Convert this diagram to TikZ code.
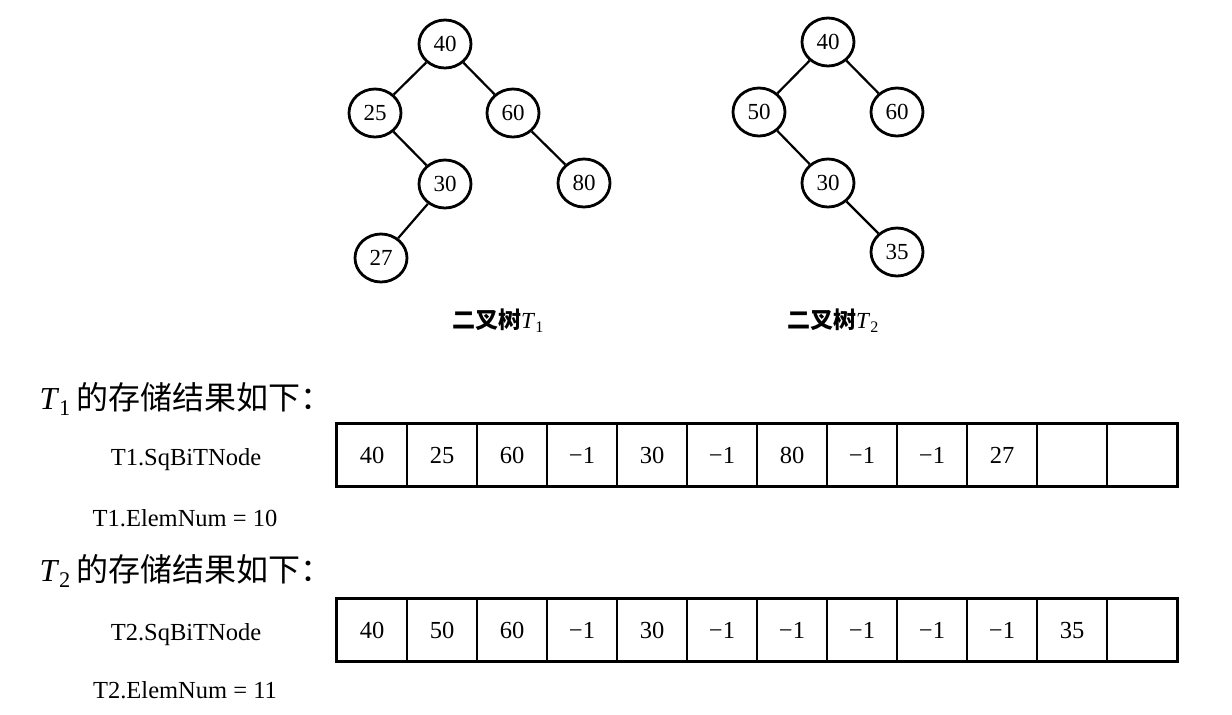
\documentclass[tikz,border=0pt]{standalone}
\usepackage{fontspec}
\setmainfont{Liberation Serif}
\newfontfamily\cjk{Noto Sans CJK SC}
\usetikzlibrary{shapes.geometric}

\tikzset{
  treenode/.style={draw, ellipse, line width=2.8pt, minimum width=52pt, minimum height=48pt, inner sep=0pt, text height=15.2pt, text depth=0pt, font=\fontsize{23}{26}\selectfont},
  treeedge/.style={line width=2.2pt},
  cell/.style={draw, line width=1.8pt, minimum width=70pt, minimum height=62pt, inner sep=0pt, text height=16.2pt, text depth=0pt, font=\fontsize{24.5}{28}\selectfont},
  rowname/.style={text height=16.2pt, text depth=0pt, font=\fontsize{24.5}{28}\selectfont},
  heading/.style={anchor=west, font=\fontsize{32}{36}\selectfont},
}

\begin{document}
\begin{tikzpicture}[x=1pt, y=-1pt]
  \useasboundingbox (0,0) rectangle (1232,715);

  % 二叉树 T1
  \begin{scope}
    \node[treenode] (t1a) at (445,44) {40};
    \node[treenode] (t1b) at (375,113) {25};
    \node[treenode] (t1c) at (513,113) {60};
    \node[treenode] (t1d) at (445,184) {30};
    \node[treenode] (t1e) at (584,183) {80};
    \node[treenode] (t1f) at (381,258) {27};
    \draw[treeedge] (t1a) -- (t1b);
    \draw[treeedge] (t1a) -- (t1c);
    \draw[treeedge] (t1b) -- (t1d);
    \draw[treeedge] (t1c) -- (t1e);
    \draw[treeedge] (t1d) -- (t1f);
    \node[font=\fontsize{23}{26}\selectfont] (t1name) at (498,321) {{\cjk\bfseries 二叉树}\textit{T}\textsubscript{1}};
  \end{scope}

  % 二叉树 T2
  \begin{scope}
    \node[treenode] (t2a) at (828,42) {40};
    \node[treenode] (t2b) at (759,112) {50};
    \node[treenode] (t2c) at (897,112) {60};
    \node[treenode] (t2d) at (828,183) {30};
    \node[treenode] (t2e) at (897,252) {35};
    \draw[treeedge] (t2a) -- (t2b);
    \draw[treeedge] (t2a) -- (t2c);
    \draw[treeedge] (t2b) -- (t2d);
    \draw[treeedge] (t2d) -- (t2e);
    \node[font=\fontsize{23}{26}\selectfont] (t2name) at (833,321) {{\cjk\bfseries 二叉树}\textit{T}\textsubscript{2}};
  \end{scope}

  % T1 的存储
  \node[heading] (h1) at (36,399) {\textit{T}\textsubscript{1}\,{\cjk 的存储结果如下：}};
  \node[rowname] (n1) at (186,457) {T1.SqBiTNode};
  \node[rowname] (e1) at (185,518) {T1.ElemNum = 10};
  \foreach \v [count=\i] in {40,25,60,−1,30,−1,80,−1,−1,27,{},{}}
    \node[cell] (a\i) at (302+70*\i,455) {\v};
  \draw[line width=3pt] (a1.north west) rectangle (a12.south east);

  % T2 的存储
  \node[heading] (h2) at (36,571) {\textit{T}\textsubscript{2}\,{\cjk 的存储结果如下：}};
  \node[rowname] (n2) at (186,632) {T2.SqBiTNode};
  \node[rowname] (e2) at (185,690) {T2.ElemNum = 11};
  \foreach \v [count=\i] in {40,50,60,−1,30,−1,−1,−1,−1,−1,35,{}}
    \node[cell] (b\i) at (302+70*\i,630) {\v};
  \draw[line width=3pt] (b1.north west) rectangle (b12.south east);
\end{tikzpicture}
\end{document}
